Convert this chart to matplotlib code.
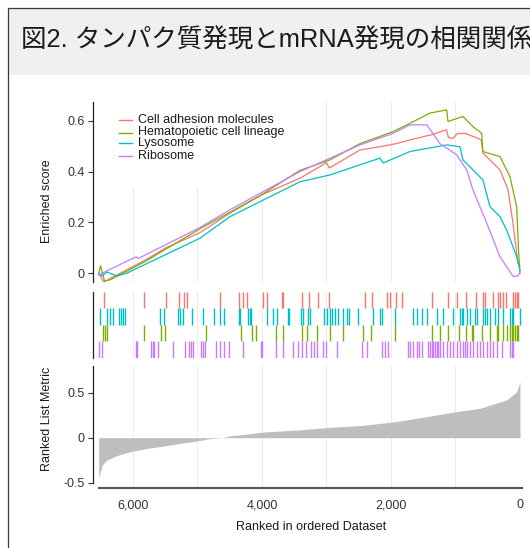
import matplotlib
matplotlib.use("Agg")
import matplotlib.pyplot as plt
from matplotlib.patches import Rectangle
from matplotlib.lines import Line2D

plt.rcParams['font.family'] = ['Liberation Sans', 'DejaVu Sans']

# ---- data ----
set_names = ["Cell adhesion molecules", "Hematopoietic cell lineage", "Lysosome", "Ribosome"]
set_colors = ["#F8766D", "#7CAE00", "#00BFC4", "#C77CFF"]

red_rank = [6530, 6450, 6350, 5820, 5490, 4960, 4495, 3990, 3410, 3000, 2955, 2480, 2170,
            1920, 1700, 1370, 1140, 1110, 1040, 970, 840, 600, 574, 310, 186, 109, 31, 0]
red_es = [0.0, -0.035, -0.02, 0.05, 0.10, 0.16, 0.237, 0.31, 0.374, 0.435, 0.414, 0.485, 0.498,
          0.51, 0.525, 0.545, 0.565, 0.535, 0.53, 0.55, 0.55, 0.525, 0.473, 0.407, 0.33, 0.198, 0.04, 0.03]

green_rank = [6530, 6500, 6440, 6355, 5820, 4960, 4000, 3410, 2945, 2480, 1970, 1705, 1395,
              1136, 1116, 884, 729, 594, 574, 310, 155, 51, 20, 0]
green_es = [0.0, 0.03, -0.03, -0.026, 0.045, 0.175, 0.31, 0.405, 0.446, 0.51, 0.557, 0.59, 0.63,
            0.643, 0.597, 0.617, 0.577, 0.551, 0.479, 0.459, 0.38, 0.262, 0.08, 0.0]

cyan_rank = [6530, 6480, 6400, 6250, 6100, 4960, 4495, 3410, 2945, 2170, 2120, 1705, 1136,
             930, 884, 729, 574, 465, 310, 206, 109, 51, 0]
cyan_es = [0.0, -0.01, 0.005, -0.01, 0.0, 0.138, 0.223, 0.36, 0.387, 0.453, 0.434, 0.479, 0.505,
           0.498, 0.446, 0.407, 0.367, 0.262, 0.223, 0.17, 0.105, 0.065, 0.013]

purple_rank = [6530, 6480, 5950, 5920, 4960, 4495, 3410, 2480, 1970, 1705, 1446, 1350, 1240,
               981, 826, 729, 516, 310, 104, 30, 0]
purple_es = [-0.007, 0.0, 0.065, 0.058, 0.18, 0.25, 0.40, 0.505, 0.55, 0.584, 0.584, 0.55, 0.51,
             0.466, 0.407, 0.328, 0.198, 0.065, -0.013, -0.01, 0.006]

red_hits = [6448, 5823, 5492, 5286, 5203, 5156, 4645, 4361, 4299, 4237, 3989, 3927, 3684, 3668,
            3384, 3265, 3136, 2955, 2397, 2299, 2067, 2015, 1922, 1834, 1369, 1111, 971, 837,
            682, 579, 537, 413, 346, 310, 258, 217, 114, 78, 52, 26]
cyan_hits = [6510, 6396, 6355, 6303, 6210, 6190, 6148, 6123, 5575, 5513, 5296, 5270, 5229, 5089,
             4919, 4738, 4655, 4583, 4361, 4340, 4211, 4185, 4170, 3927, 3823, 3772, 3601, 3586,
             3400, 3369, 3281, 3255, 3038, 2997, 2945, 2919, 2868, 2816, 2738, 2676, 2645, 2506,
             2273, 2170, 2144, 1938, 1653, 1602, 1524, 1447, 1292, 1188, 1033, 930, 904, 878,
             827, 775, 698, 672, 568, 543, 517, 465, 388, 336, 258, 155, 129, 103, 0]
green_hits = [6458, 6433, 6396, 5823, 5570, 5503, 4872, 4330, 4159, 4097, 3787, 3668, 3384, 3296,
              3141, 2945, 2738, 2429, 2310, 1938, 1369, 1240, 1121, 946, 837, 749, 723, 594,
              465, 362, 336, 258, 207, 155, 129, 103, 78, 52, 26]
purple_hits = [6520, 6484, 5952, 5931, 5725, 5694, 5673, 5606, 5373, 5193, 5125, 5100, 5063, 4945,
               4908, 4883, 4712, 4650, 4583, 4505, 4288, 4015, 3994, 3782, 3668, 3513, 3436, 3384,
               3322, 3240, 3193, 3152, 3048, 3007, 2842, 2454, 2366, 2134, 2093, 2051, 1731, 1705,
               1653, 1602, 1560, 1524, 1421, 1395, 1369, 1343, 1318, 1292, 1266, 1240, 1188, 1137,
               1085, 1033, 982, 930, 878, 852, 827, 775, 723, 672, 620, 568, 517, 465, 413, 362,
               284, 155, 129, 103]

metric_rank = [6530, 6520, 6470, 6406, 6251, 6045, 5786, 5528, 5270, 5011, 4805, 4624, 4495,
               4237, 3979, 3461, 2945, 2429, 1911, 1395, 981, 620, 206, 51, 0]
metric_val = [-0.45, -0.42, -0.30, -0.25, -0.20, -0.155, -0.12, -0.093, -0.063, -0.037, -0.01, 0.0,
              0.02, 0.04, 0.063, 0.085, 0.115, 0.137, 0.18, 0.24, 0.29, 0.327, 0.42, 0.51, 0.62]

es_ticks = [0, 0.2, 0.4, 0.6]
es_labels = ["0", "0.2", "0.4", "0.6"]
metric_ticks = [-0.5, 0, 0.5]
metric_labels = ["-0.5", "0", "0.5"]
x_ticks = [6000, 4000, 2000, 0]
x_labels = ["6,000", "4,000", "2,000", "0"]
grid_ranks = [1000, 2000, 3000, 4000, 5000, 6000]

title = "図2. タンパク質発現とmRNA発現の相関関係"

# ---- figure ----
W, H = 530, 548
fig = plt.figure(figsize=(W / 100, H / 100), dpi=100)


def fx(px):
    return px / W


def fy(py):
    return 1 - py / H


# title bar and outer border
fig.patches.append(Rectangle((fx(8), fy(75)), 1.0, fy(8) - fy(75), transform=fig.transFigure,
                             facecolor="#f0f0f0", edgecolor="none", zorder=0))
fig.patches.append(Rectangle((fx(8), -0.1), 1.0, fy(8) + 0.1, transform=fig.transFigure,
                             facecolor="none", edgecolor="#3a3a3a", lw=0.9, zorder=1))
fig.text(fx(21), fy(40.5), title, fontsize=18.4, va="center", ha="left", color="#1a1a1a",
         family=["Liberation Sans", "Noto Sans CJK JP"])

x0, x1 = fx(93), fx(525)
ax1 = fig.add_axes([x0, fy(281.7), x1 - x0, fy(101.7) - fy(281.7)])
ax2 = fig.add_axes([x0, fy(357.5), x1 - x0, fy(292) - fy(357.5)])
ax3 = fig.add_axes([x0, fy(488), x1 - x0, fy(366) - fy(488)])

xlim = (6618, -78)
spine_col = "#222222"
for ax in (ax1, ax2, ax3):
    ax.set_xlim(*xlim)
    ax.set_facecolor("none")
    for r in grid_ranks:
        ax.axvline(r, color="#ebebeb", lw=0.7, zorder=0)
    for s in ("top", "right", "bottom"):
        ax.spines[s].set_visible(False)
    ax.spines["left"].set_color(spine_col)
    ax.spines["left"].set_linewidth(0.9)
    ax.tick_params(axis="y", labelsize=9, colors="#333333", length=3.6, width=0.8, pad=2.5)
    ax.tick_params(axis="x", bottom=False, labelbottom=False)

# panel 1: running enrichment score
ax1.set_ylim(-0.033, 0.675)
ax1.add_patch(Rectangle((0, 0.526), 0.479, 0.5, transform=ax1.transAxes,
                        facecolor="white", edgecolor="none", zorder=1))
curves = [(red_rank, red_es), (green_rank, green_es), (cyan_rank, cyan_es), (purple_rank, purple_es)]
for (rk, es), col in zip(curves, set_colors):
    ax1.plot(rk, es, color=col, lw=0.9, zorder=3)
ax1.set_yticks(es_ticks)
ax1.set_yticklabels(es_labels)

# legend (drawn by hand to copy the uneven R spacing)
leg_rows = [120.2, 132.5, 143.0, 155.8]
for name, col, yy in zip(set_names, set_colors, leg_rows):
    fig.lines.append(Line2D([fx(119), fx(132)], [fy(yy), fy(yy)], transform=fig.transFigure,
                            color=col, lw=1.0))
    fig.text(fx(138), fy(yy), name, fontsize=9, va="center", ha="left", color="#1a1a1a")

# panel 2: gene hit positions
ax2.set_ylim(0, 4)
ax2.set_yticks([])
hits = [red_hits, cyan_hits, green_hits, purple_hits]
hit_cols = [set_colors[0], set_colors[2], set_colors[1], set_colors[3]]
for i, (h, col) in enumerate(zip(hits, hit_cols)):
    ax2.vlines(h, 3 - i, 4 - i, color=col, lw=1.0, zorder=3)

# panel 3: ranked list metric
ax3.set_ylim(-0.559, 0.797)
ax3.fill_between(metric_rank, metric_val, 0, color="#bebebe", lw=0, zorder=2)
ax3.set_yticks(metric_ticks)
ax3.set_yticklabels(metric_labels)
ax3.spines["left"].set_bounds(-0.5, 0.797)
ax3.spines["bottom"].set_visible(True)
ax3.spines["bottom"].set_color("#555555")
ax3.spines["bottom"].set_linewidth(1.5)
ax3.spines["bottom"].set_bounds(6525, -31)
ax3.set_xticks(x_ticks)
ax3.set_xticklabels(x_labels)
ax3.tick_params(axis="x", labelbottom=True, length=0, labelsize=9, colors="#333333", pad=8)

fig.text(fx(47), fy(201.5), "Enriched score", rotation=90, fontsize=9, va="center", ha="center",
         color="#1a1a1a")
fig.text(fx(47), fy(419), "Ranked List Metric", rotation=90, fontsize=9, va="center", ha="center",
         color="#1a1a1a")
fig.text(fx(311), fy(527.5), "Ranked in ordered Dataset", fontsize=9, va="center", ha="center",
         color="#1a1a1a")

fig.savefig("out.png", dpi=100)
